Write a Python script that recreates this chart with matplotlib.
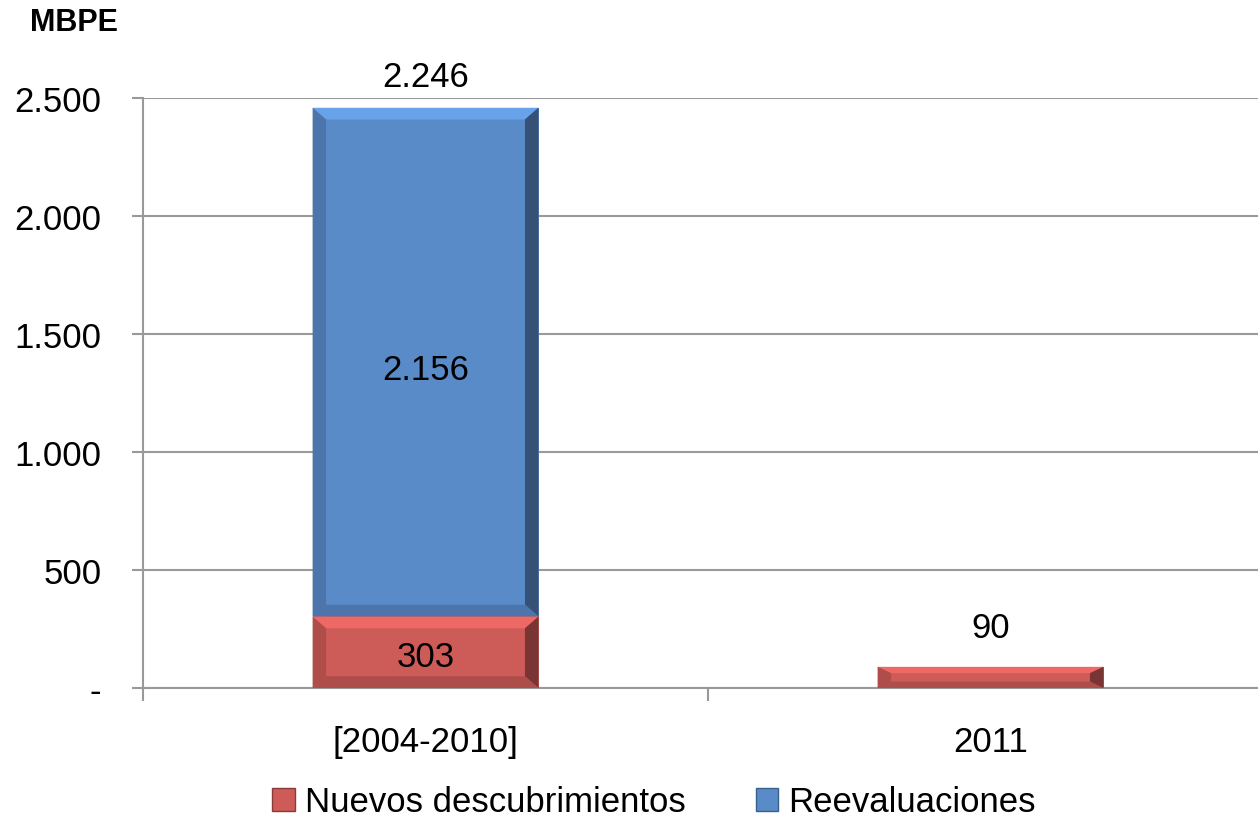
import matplotlib
matplotlib.use("Agg")
import matplotlib.pyplot as plt
from matplotlib.patches import Polygon, Rectangle
from matplotlib.ticker import FuncFormatter, FixedLocator

categories = ["[2004-2010]", "2011"]
nuevos = [303, 90]
reevaluaciones = [2156, 0]
total_labels = ["2.246", "90"]
series_names = ["Nuevos descubrimientos", "Reevaluaciones"]

red = "#CD5B58"
blue = "#5A8BC9"

plt.rcParams["font.family"] = ["Liberation Sans", "DejaVu Sans"]

fig = plt.figure(figsize=(12.58, 8.2), dpi=100)
# plot area runs a little past the right edge of the picture, as in the original
ax = fig.add_axes([143 / 1258, 1 - 689 / 820, (1273 - 143) / 1258, 590 / 820])

x = list(range(len(categories)))
width = 0.40
b1 = ax.bar(x, nuevos, width, color=red, zorder=3)
b2 = ax.bar(x, reevaluaciones, width, bottom=nuevos, color=blue, zorder=3)

ax.set_xlim(-0.5, 1.5)
ax.set_ylim(0, 2500)


def bevel(rect, base, bev=0.02):
    # fake the office-style bevel with light top and dark right/bottom
    x0, y0 = rect.get_x(), rect.get_y()
    w, h = rect.get_width(), rect.get_height()
    if h <= 0:
        return
    bx = w * 0.06
    by = min(h * 0.3, 2500 * bev)
    x1, y1 = x0 + w, y0 + h
    light = matplotlib.colors.to_rgb(base)
    lt = tuple(min(1, c * 1.22) for c in light)
    dk = tuple(c * 0.45 for c in light)
    md = tuple(c * 0.8 for c in light)
    polys = [
        ([(x0, y1), (x1, y1), (x1 - bx, y1 - by), (x0 + bx, y1 - by)], lt),
        ([(x1, y1), (x1, y0), (x1 - bx, y0 + by), (x1 - bx, y1 - by)], dk),
        ([(x0, y0), (x1, y0), (x1 - bx, y0 + by), (x0 + bx, y0 + by)], md),
        ([(x0, y0), (x0, y1), (x0 + bx, y1 - by), (x0 + bx, y0 + by)], md),
    ]
    for pts, c in polys:
        ax.add_patch(Polygon(pts, closed=True, facecolor=c, edgecolor="none", zorder=4, alpha=0.75))


for r in b1:
    bevel(r, red)
for r in b2:
    bevel(r, blue)

for spine in ["top", "right"]:
    ax.spines[spine].set_visible(False)
for spine in ["left", "bottom"]:
    ax.spines[spine].set_color("#999999")
    ax.spines[spine].set_linewidth(1.5)

ax.yaxis.set_major_locator(FixedLocator([0, 500, 1000, 1500, 2000, 2500]))
ax.yaxis.set_major_formatter(FuncFormatter(lambda v, p: "-" if v == 0 else f"{int(v):,}".replace(",", ".")))
ax.grid(axis="y", color="#999999", linewidth=1.5, zorder=0)
ax.tick_params(axis="y", length=8, width=1.5, color="#999999", labelsize=25, pad=22)

ax.set_xticks(x)
ax.set_xticklabels(categories)
ax.tick_params(axis="x", length=0, labelsize=25, pad=27)
ax.set_xticks([-0.5, 0.5, 1.5], minor=True)
ax.tick_params(axis="x", which="minor", length=9, width=1.5, color="#999999")

# data labels
ax.text(0, nuevos[0] + reevaluaciones[0] + 130, total_labels[0], ha="center", va="center", fontsize=25, zorder=5)
ax.text(0, nuevos[0] + reevaluaciones[0] / 2 - 30, f"{reevaluaciones[0]:,}".replace(",", "."),
        ha="center", va="center", fontsize=25, zorder=5)
ax.text(0, nuevos[0] / 2 - 20, str(nuevos[0]), ha="center", va="center", fontsize=25, zorder=5)
ax.text(1, nuevos[1] + 165, total_labels[1], ha="center", va="center", fontsize=25, zorder=5)

fig.text(30 / 1258, 1 - 23 / 820, "MBPE", fontsize=22, fontweight="bold", ha="left", va="center")

handles = [Rectangle((0, 0), 1, 1, facecolor=red, edgecolor="#8a3a38"),
           Rectangle((0, 0), 1, 1, facecolor=blue, edgecolor="#3a5f8a")]
fig.legend(handles, series_names, loc="center", bbox_to_anchor=(0.52, 1 - 803 / 820), ncol=2,
           frameon=False, fontsize=25, handlelength=0.65, handleheight=0.65, handletextpad=0.3,
           columnspacing=2.0)

fig.savefig("out.png", dpi=100)
